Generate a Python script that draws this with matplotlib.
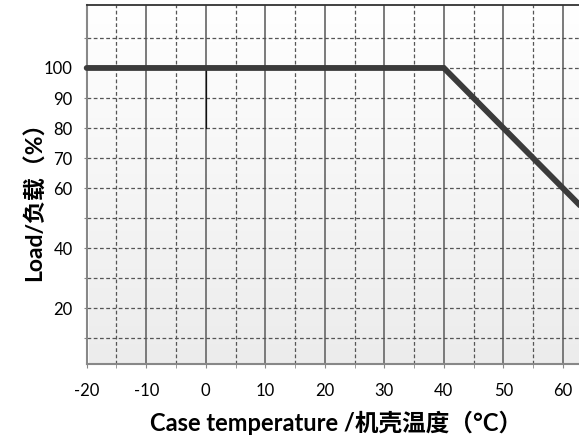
import numpy as np
import matplotlib
matplotlib.use("Agg")
import matplotlib.pyplot as plt
from matplotlib.colors import LinearSegmentedColormap

plt.rcParams['font.family'] = ['Lato', 'Noto Sans CJK SC', 'DejaVu Sans']

# Data
temps = [-20, 40, 70]
loads = [100, 100, 40]
x_major = [-20, -10, 0, 10, 20, 30, 40, 50, 60]
x_minor = [-15, -5, 5, 15, 25, 35, 45, 55]
y_ticks = [10, 20, 30, 40, 50, 60, 70, 80, 90, 100, 110]
y_labels = {100: "100", 90: "90", 80: "80", 70: "70", 60: "60", 40: "40", 20: "20"}
marker_x = [0, 0]
marker_y = [80, 100]

fig = plt.figure(figsize=(5.79, 4.38), dpi=100)
ax = fig.add_axes([0.1497, 0.169, 0.8503, 0.8199])
xlim = (-19.6, 62.7)
ylim = (1.5, 121)

# gradient background (white at top, light gray at bottom)
grad = np.linspace(0, 1, 256).reshape(-1, 1)
cmap = LinearSegmentedColormap.from_list("bg", ["#ececec", "#ffffff"])
ax.imshow(grad, extent=[xlim[0], xlim[1], ylim[0], ylim[1]], aspect='auto',
          cmap=cmap, zorder=0, origin='lower')
ax.set_xlim(*xlim)
ax.set_ylim(*ylim)

for xv in x_major[1:]:
    ax.axvline(xv, color="#707070", lw=1.3, zorder=1)
for xv in x_minor:
    ax.axvline(xv, color="#555555", lw=0.9, ls=(0, (3, 2)), zorder=1)
for yv in y_ticks:
    ax.axhline(yv, color="#555555", lw=0.9, ls=(0, (3, 2)), zorder=1)

ax.plot(temps, loads, color="#3b3b3b", lw=4.2, solid_capstyle='round',
        solid_joinstyle='miter', zorder=3, clip_on=False)
ax.plot(marker_x, marker_y, color="#111111", lw=0.9, zorder=2)

ax.set_xticks(x_major)
ax.set_xticks(x_minor, minor=True)
ax.set_xticklabels([str(v) for v in x_major], fontsize=12)
ax.set_yticks(y_ticks)
ax.set_yticklabels([y_labels.get(v, "") for v in y_ticks], fontsize=12)
ax.tick_params(axis='x', which='both', length=3, color="#888888", pad=11)
ax.tick_params(axis='y', length=2, color="#888888", pad=8)

ax.spines['right'].set_visible(False)
ax.spines['top'].set_color("#333333")
ax.spines['top'].set_linewidth(1.3)
for s in ['left', 'bottom']:
    ax.spines[s].set_color("#888888")
    ax.spines[s].set_linewidth(1.5)

fig.text(336 / 579, 1 - 431 / 438, "Case temperature /机壳温度（°C）", ha='center', va='baseline',
         fontsize=17, fontweight='bold')
fig.text(41.7 / 579, 1 - 196 / 438, "Load/负载（%）", ha='center', va='baseline', rotation=90,
         rotation_mode='anchor', fontsize=16.5, fontweight='bold')

fig.savefig("out.png", dpi=100)
